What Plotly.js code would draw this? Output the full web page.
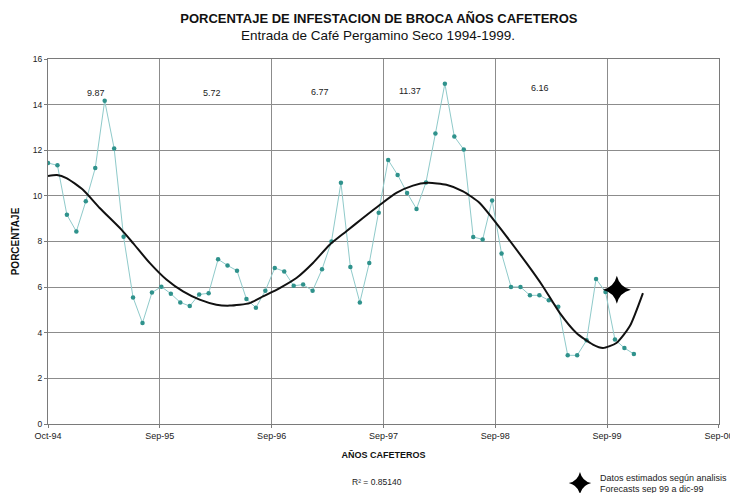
<!DOCTYPE html>
<html>
<head>
<meta charset="utf-8">
<script src="https://cdn.plot.ly/plotly-3.0.1.min.js"></script>
<style>html,body{margin:0;padding:0;background:#fff;}#chart{width:730px;height:493px;}</style>
</head>
<body>
<div id="chart"></div>
<script>
// Monthly infestation percentage, index 0 = Oct-94
const infestation = [
  11.44, 11.34, 9.17, 8.44, 9.76, 11.22, 14.17, 12.08, 8.21, 5.55, 4.43, 5.76,
  6.02, 5.71, 5.33, 5.17, 5.68, 5.73, 7.22, 6.95, 6.72, 5.48, 5.10, 5.84,
  6.84, 6.69, 6.06, 6.11, 5.84, 6.78, 8.00, 10.57, 6.88, 5.33, 7.06, 9.26,
  11.57, 10.92, 10.13, 9.43, 10.59, 12.73, 14.92, 12.60, 12.03, 8.20, 8.09, 9.80,
  7.47, 6.01, 6.01, 5.64, 5.64, 5.42, 5.14, 3.01, 3.01, 3.67, 6.36, 5.79,
  3.70, 3.33, 3.07
];
const monthIndex = infestation.map((_, i) => i);

// Polynomial trend line
const trendX = [0, 0.95, 1.95, 3.7, 5.47, 7.77, 9.0, 10.76, 12.53, 14.29, 16.05, 17.82, 19.23,
  21.35, 22.75, 24.52, 26.29, 28.04, 29.81, 31.58, 33.33, 35.1, 36.87, 38.62, 40.2, 42.16,
  43.92, 45.68, 47.1, 50.62, 52.38, 54.15, 55.92, 57.67, 58.73, 60.15, 61.56, 62.96];
const trendY = [10.87, 10.91, 10.78, 10.27, 9.47, 8.52, 7.93, 7.06, 6.33, 5.81, 5.45, 5.23, 5.19,
  5.30, 5.59, 5.96, 6.40, 7.06, 7.86, 8.45, 9.03, 9.60, 10.13, 10.45, 10.57, 10.49,
  10.2, 9.69, 8.98, 7.06, 6.03, 4.87, 3.99, 3.48, 3.33, 3.55, 4.28, 5.74];

// Forecast marker
const forecastX = [60.2];
const forecastY = [5.88];

// Tick labels
const tickLabels = ['Oct-94', 'Sep-95', 'Sep-96', 'Sep-97', 'Sep-98', 'Sep-99', 'Sep-00'];
const yTicks = [0, 2, 4, 6, 8, 10, 12, 14, 16];

// Yearly averages
const yearAvg = ['9.87', '5.72', '6.77', '11.37', '6.16'];
const avgPosX = [5.1, 17.4, 28.8, 38.3, 52.1];
const avgPosY = [14.5, 14.5, 14.55, 14.6, 14.75];

const rSquared = 'R² = 0.85140';

const FONT = 'Liberation Sans, Arial, sans-serif';
const xMax = 71;
const tickPos = tickLabels.map((_, k) => Math.round(k * xMax / (tickLabels.length - 1) * 1000) / 1000);

const traces = [
  {
    x: monthIndex, y: infestation, type: 'scatter', mode: 'lines+markers',
    line: {color: '#8fcaca', width: 1},
    marker: {color: '#2f928c', size: 4.5},
    showlegend: false, hoverinfo: 'skip'
  },
  {
    x: trendX, y: trendY, type: 'scatter', mode: 'lines',
    line: {color: '#111', width: 2, shape: 'spline', smoothing: 0.6},
    showlegend: false, hoverinfo: 'skip'
  },
  {
    x: forecastX, y: forecastY, type: 'scatter', mode: 'markers',
    marker: {symbol: 'star-diamond', color: '#000', size: 20},
    name: 'Datos estimados según analisis<br>Forecasts sep 99 a dic-99',
    showlegend: true, hoverinfo: 'skip'
  }
];

const annotations = yearAvg.map((t, i) => ({
  x: avgPosX[i], y: avgPosY[i], xref: 'x', yref: 'y', text: t, showarrow: false,
  font: {family: FONT, size: 9, color: '#222'}
}));
annotations.push({
  xref: 'paper', yref: 'paper', x: 0.492, y: 1 + 24 / 365, yanchor: 'middle',
  xanchor: 'center',
  text: 'Entrada de Café Pergamino Seco 1994-1999.', showarrow: false,
  font: {family: FONT, size: 13.5, color: '#111'}
});
annotations.push({
  xref: 'paper', yref: 'paper', x: 0.491, y: -0.178, text: rSquared, showarrow: false,
  font: {family: FONT, size: 8.5, color: '#222'}
});

const layout = {
  width: 730, height: 493,
  margin: {l: 48, r: 11, t: 59, b: 69, autoexpand: false},
  paper_bgcolor: '#fff', plot_bgcolor: '#fff',
  font: {family: FONT, color: '#222'},
  title: {
    text: '<b>PORCENTAJE DE INFESTACION DE BROCA AÑOS CAFETEROS</b>',
    x: 0.519, xanchor: 'center', y: 1 - 18 / 493, yanchor: 'middle', yref: 'container',
    font: {family: FONT, size: 13, color: '#111'}
  },
  xaxis: {
    range: [0, xMax + 0.01], tickmode: 'array', tickvals: tickPos, ticktext: tickLabels,
    showgrid: true, gridcolor: '#8c8c8c', gridwidth: 1,
    showline: true, linecolor: '#7a7a7a', linewidth: 1, mirror: true,
    ticks: 'outside', ticklen: 3, tickcolor: '#7a7a7a',
    tickfont: {family: FONT, size: 9, color: '#222'},
    ticklabeloverflow: 'allow',
    zeroline: false,
    title: {text: '<b>AÑOS CAFETEROS</b>', standoff: 11, font: {family: FONT, size: 9, color: '#111'}}
  },
  yaxis: {
    range: [0, 16], tickmode: 'array', tickvals: yTicks,
    showgrid: true, gridcolor: '#8c8c8c', gridwidth: 1,
    showline: true, linecolor: '#7a7a7a', linewidth: 1, mirror: true,
    ticks: 'outside', ticklen: 3, tickcolor: '#7a7a7a',
    tickfont: {family: FONT, size: 8.5, color: '#222'},
    zeroline: false,
    title: {text: '<b>PORCENTAJE</b>', standoff: 11, font: {family: FONT, size: 10, color: '#111'}}
  },
  showlegend: true,
  legend: {
    x: 0.763, xanchor: 'left', y: -0.112, yanchor: 'top',
    bgcolor: 'rgba(0,0,0,0)', borderwidth: 0,
    font: {family: FONT, size: 9, color: '#222'},
    itemsizing: 'trace', tracegroupgap: 0
  },
  annotations: annotations
};

Plotly.newPlot('chart', traces, layout, {displayModeBar: false, staticPlot: true});
</script>
</body>
</html>
